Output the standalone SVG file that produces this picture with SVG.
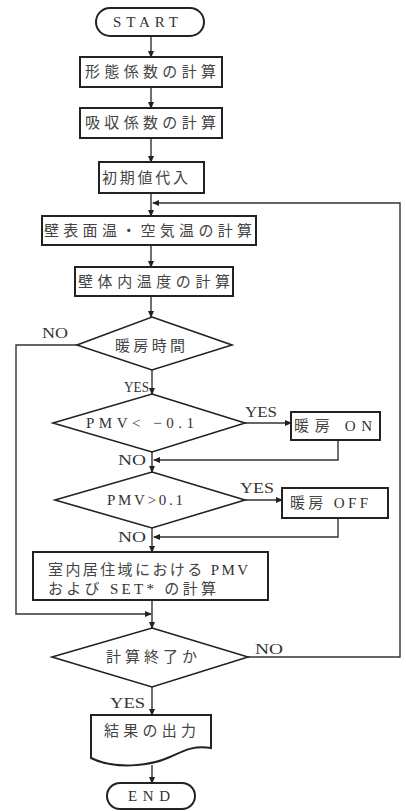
<svg xmlns="http://www.w3.org/2000/svg" width="406" height="811" viewBox="0 0 406 811">
<style>
.shape{fill:#fff;stroke:#222;stroke-width:2}
.dia{fill:#fff;stroke:#222;stroke-width:1.6}
.ln{fill:none;stroke:#333;stroke-width:1.4}
.jp{font-family:"Noto Sans CJK JP","Noto Sans",sans-serif;font-size:15px;fill:#444}
.en{font-family:"Liberation Serif",serif;font-size:15px;fill:#333}
.lb{font-family:"Liberation Serif",serif;font-size:14px;fill:#333}
</style>
<defs>
<marker id="ah" markerWidth="7" markerHeight="7" refX="6" refY="3.5" orient="auto" markerUnits="userSpaceOnUse">
<path d="M0,0.5 L7,3.5 L0,6.5 Z" fill="#222"/>
</marker>
</defs>
<rect width="406" height="811" fill="#fff"/>
<g id="connectors">
<line class="ln" x1="151" y1="36" x2="151" y2="57" marker-end="url(#ah)"/>
<line class="ln" x1="151" y1="87" x2="151" y2="108" marker-end="url(#ah)"/>
<line class="ln" x1="151" y1="138" x2="151" y2="162" marker-end="url(#ah)"/>
<line class="ln" x1="151" y1="193" x2="151" y2="216" marker-end="url(#ah)"/>
<line class="ln" x1="151" y1="245" x2="151" y2="267" marker-end="url(#ah)"/>
<line class="ln" x1="151" y1="296" x2="151" y2="317" marker-end="url(#ah)"/>
<line class="ln" x1="152" y1="370" x2="152" y2="394" marker-end="url(#ah)"/>
<line class="ln" x1="245" y1="423" x2="291" y2="423" marker-end="url(#ah)"/>
<polyline class="ln" points="338,440 338,460 154,460" marker-end="url(#ah)"/>
<line class="ln" x1="152" y1="452" x2="152" y2="472" marker-end="url(#ah)"/>
<line class="ln" x1="245" y1="500" x2="282" y2="500" marker-end="url(#ah)"/>
<polyline class="ln" points="338,518 338,537 154,537" marker-end="url(#ah)"/>
<line class="ln" x1="152" y1="528" x2="152" y2="552" marker-end="url(#ah)"/>
<line class="ln" x1="152" y1="600" x2="152" y2="628" marker-end="url(#ah)"/>
<polyline class="ln" points="77,345 16,345 16,614 151,614" marker-end="url(#ah)"/>
<polyline class="ln" points="248,657 400,657 400,203 153,203" marker-end="url(#ah)"/>
<line class="ln" x1="152" y1="687" x2="152" y2="715" marker-end="url(#ah)"/>
<line class="ln" x1="152" y1="765" x2="152" y2="783" marker-end="url(#ah)"/>
</g>
<g id="labels">
<text class="lb" x="42" y="338" textLength="26" lengthAdjust="spacingAndGlyphs">NO</text>
<text class="lb" x="124" y="392" textLength="25" lengthAdjust="spacingAndGlyphs">YES</text>
<text class="lb" x="245" y="417" textLength="32" lengthAdjust="spacingAndGlyphs">YES</text>
<text class="lb" x="118" y="465" textLength="28" lengthAdjust="spacingAndGlyphs">NO</text>
<text class="lb" x="240" y="493" textLength="34" lengthAdjust="spacingAndGlyphs">YES</text>
<text class="lb" x="118" y="542" textLength="28" lengthAdjust="spacingAndGlyphs">NO</text>
<text class="lb" x="255" y="654" textLength="28" lengthAdjust="spacingAndGlyphs">NO</text>
<text class="lb" x="110" y="708" textLength="35" lengthAdjust="spacingAndGlyphs">YES</text>
</g>
<g id="start">
<rect class="shape" x="96" y="8" width="108" height="28" rx="14"/>
<text class="en" x="113" y="27" textLength="65" lengthAdjust="spacing">START</text>
</g>
<g id="n1">
<rect class="shape" x="80" y="57" width="142" height="30"/>
<text class="jp" x="85" y="77" textLength="131" lengthAdjust="spacing">形態係数の計算</text>
</g>
<g id="n2">
<rect class="shape" x="80" y="108" width="142" height="30"/>
<text class="jp" x="85" y="128" textLength="131" lengthAdjust="spacing">吸収係数の計算</text>
</g>
<g id="n3">
<rect class="shape" x="99" y="162" width="105" height="31"/>
<text class="jp" x="102" y="183" textLength="86" lengthAdjust="spacing">初期値代入</text>
</g>
<g id="n4">
<rect class="shape" x="42" y="216" width="214" height="29"/>
<text class="jp" x="44" y="236" textLength="208" lengthAdjust="spacing">壁表面温・空気温の計算</text>
</g>
<g id="n5">
<rect class="shape" x="75" y="267" width="158" height="29"/>
<text class="jp" x="78" y="287" textLength="152" lengthAdjust="spacing">壁体内温度の計算</text>
</g>
<g id="d1">
<polygon class="dia" points="152,317 232,345 152,370 77,345"/>
<text class="jp" x="115" y="351" textLength="70" lengthAdjust="spacing">暖房時間</text>
</g>
<g id="d2">
<polygon class="dia" points="152,394 245,423 152,452 53,423"/>
<text class="en" x="86" y="428" textLength="108" lengthAdjust="spacing">PMV&lt; −0.1</text>
</g>
<g id="on">
<rect class="shape" x="291" y="412" width="89" height="28"/>
<text x="294" y="431" textLength="78" lengthAdjust="spacing"><tspan class="jp">暖房</tspan><tspan class="en"> ON</tspan></text>
</g>
<g id="d3">
<polygon class="dia" points="152,472 245,500 152,528 55,500"/>
<text class="en" x="107" y="505" textLength="76" lengthAdjust="spacing">PMV&gt;0.1</text>
</g>
<g id="off">
<rect class="shape" x="282" y="488" width="106" height="30"/>
<text x="290" y="508" textLength="78" lengthAdjust="spacing"><tspan class="jp">暖房</tspan><tspan class="en"> OFF</tspan></text>
</g>
<g id="n7">
<rect class="shape" x="33" y="552" width="235" height="48"/>
<text x="48" y="575" textLength="200" lengthAdjust="spacing"><tspan class="jp">室内居住域における</tspan><tspan class="en"> PMV</tspan></text>
<text x="48" y="594" textLength="168" lengthAdjust="spacing"><tspan class="jp">および</tspan><tspan class="en"> SET* </tspan><tspan class="jp">の計算</tspan></text>
</g>
<g id="d4">
<polygon class="dia" points="152,628 248,657 152,687 52,657"/>
<text class="jp" x="106" y="662" textLength="91" lengthAdjust="spacing">計算終了か</text>
</g>
<g id="out">
<path class="shape" d="M91,715 H211 V748 C195,745 185,750 170,757 C150,766 115,770 91,758 Z"/>
<text class="jp" x="104" y="736" textLength="92" lengthAdjust="spacing">結果の出力</text>
</g>
<g id="end">
<rect class="shape" x="107" y="783" width="88" height="26" rx="13"/>
<text class="en" x="128" y="801" textLength="42" lengthAdjust="spacing">END</text>
</g>
</svg>
